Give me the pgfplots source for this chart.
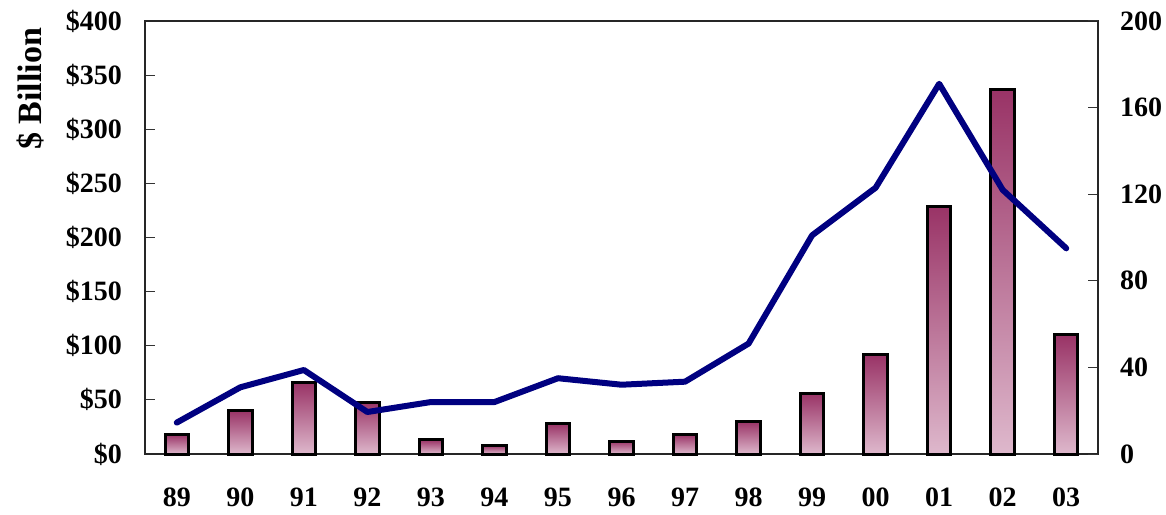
\documentclass[border=0pt]{standalone}
\usepackage{fontspec}
\setmainfont{Liberation Serif}
\usepackage{pgfplots}
\pgfplotsset{compat=1.18}
\definecolor{barTop}{RGB}{153,51,102}
\definecolor{barBot}{RGB}{222,184,204}
\definecolor{lineBlue}{RGB}{0,0,128}
\pgfplotsset{mybar/.style={ybar, bar shift=0pt, bar width=23.5pt, draw=black, line width=3pt, top color=barTop, bottom color=barBot}}
\begin{document}
\begin{tikzpicture}
\path[use as bounding box] (0,0) rectangle (1166pt,514pt);
\begin{axis}[
  at={(145pt,60pt)}, anchor=south west,
  scale only axis, width=953pt, height=433pt,
  xmin=-0.5, xmax=14.5, ymin=0, ymax=400,
  xtick={0,...,14},
  xticklabels={89,90,91,92,93,94,95,96,97,98,99,00,01,02,03},
  ytick={0,50,...,400},
  yticklabels={\$0,\$50,\$100,\$150,\$200,\$250,\$300,\$350,\$400},
  ytick pos=left, xtick pos=bottom,
  major x tick style={draw=none},
  tick align=inside, major tick length=10pt,
  major tick style={line width=1pt, black!80},
  axis line style={line width=1.2pt, black!85},
  tick label style={font=\fontsize{28}{30}\selectfont\bfseries},
  yticklabel style={anchor=east, inner sep=0pt, xshift=-23pt},
  xticklabel style={anchor=north, inner sep=0pt, yshift=-34pt},
  clip=false,
]
\addplot[mybar] coordinates {(0,18)};
\addplot[mybar] coordinates {(1,40)};
\addplot[mybar] coordinates {(2,66)};
\addplot[mybar] coordinates {(3,48)};
\addplot[mybar] coordinates {(4,13)};
\addplot[mybar] coordinates {(5,8)};
\addplot[mybar] coordinates {(6,28)};
\addplot[mybar] coordinates {(7,12)};
\addplot[mybar] coordinates {(8,18)};
\addplot[mybar] coordinates {(9,30)};
\addplot[mybar] coordinates {(10,56)};
\addplot[mybar] coordinates {(11,92)};
\addplot[mybar] coordinates {(12,229)};
\addplot[mybar] coordinates {(13,337)};
\addplot[mybar] coordinates {(14,110)};
\end{axis}
\begin{axis}[
  at={(145pt,60pt)}, anchor=south west,
  scale only axis, width=953pt, height=433pt,
  xmin=-0.5, xmax=14.5, ymin=0, ymax=200,
  axis x line=none, axis y line*=right,
  ytick={0,40,...,200},
  yticklabels={0,40,80,120,160,200},
  tick align=inside, major tick length=10pt,
  major tick style={line width=1pt, black!80},
  axis line style={line width=1.2pt, black!85},
  tick label style={font=\fontsize{28}{30}\selectfont\bfseries},
  yticklabel style={anchor=west, inner sep=0pt, xshift=22pt},
  clip=false,
]
\addplot[lineBlue, line width=6pt, line join=round, line cap=round, mark=none]
 coordinates {(0,14.5) (1,30.8) (2,38.8) (3,19.4) (4,24) (5,24) (6,35) (7,32) (8,33.4) (9,51) (10,101) (11,123) (12,171) (13,122) (14,95)};
\end{axis}
\node[rotate=90, font=\fontsize{34}{36}\selectfont\bfseries] at (30pt,425pt) {\$ Billion};
\end{tikzpicture}
\end{document}
